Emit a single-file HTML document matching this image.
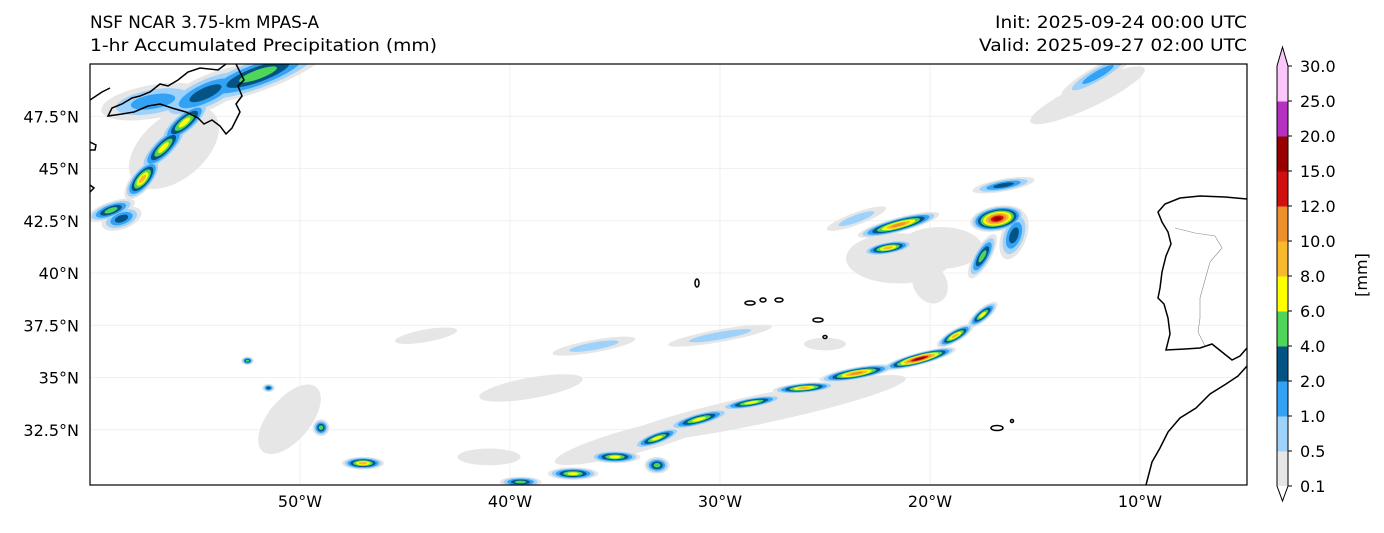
<!DOCTYPE html>
<html><head><meta charset="utf-8"><style>
body{margin:0;background:#fff;font-family:"DejaVu Sans","Liberation Sans",sans-serif;}
svg text{font-family:"DejaVu Sans","Liberation Sans",sans-serif;fill:#000;}
</style></head><body>
<svg id="chart" width="1384" height="529" viewBox="0 0 1384 529" xmlns="http://www.w3.org/2000/svg">
<text x="90" y="28" font-size="16.5" textLength="229" lengthAdjust="spacingAndGlyphs">NSF NCAR 3.75-km MPAS-A</text>
<text x="90" y="51" font-size="16.5" textLength="347" lengthAdjust="spacingAndGlyphs">1-hr Accumulated Precipitation (mm)</text>
<text x="1247" y="28" font-size="16.5" text-anchor="end" textLength="252" lengthAdjust="spacingAndGlyphs">Init: 2025-09-24 00:00 UTC</text>
<text x="1247" y="51" font-size="16.5" text-anchor="end" textLength="268" lengthAdjust="spacingAndGlyphs">Valid: 2025-09-27 02:00 UTC</text>
<defs><clipPath id="mapclip"><rect x="90" y="64" width="1157" height="421"/></clipPath></defs>
<g id="grid"></g>
<g id="precip" clip-path="url(#mapclip)"></g>
<g clip-path="url(#mapclip)" fill="none" stroke="#000" stroke-width="1.5">
<path d="M1247,199 L1225,197 L1200,196 L1180,198 L1165,204 L1158,212 L1162,222 L1168,232 L1171,244 L1166,256 L1162,272 L1160,288 L1158,298 L1164,304 L1168,318 L1170,334 L1166,350 L1185,349 L1200,348 L1212,344 L1222,352 L1232,360 L1240,356 L1247,348"/>
<path d="M1247,366 L1238,376 L1226,384 L1210,394 L1196,408 L1180,418 L1168,432 L1160,448 L1152,462 L1146,485"/>
<path d="M226,64 L218,70 L200,68 L188,72 L178,80 L168,86 L160,84 L150,92 L140,96 L132,98 L122,104 L112,108 L108,116 L122,114 L134,112 L148,106 L160,104 L172,108 L186,112 L198,118 L204,124 L212,120 L220,126 L226,134 L232,128 L236,120 L240,112 L236,104 L242,96 L238,86 L244,80 L240,72 L236,64"/>
<path d="M90,100 L96,96 L102,92 L110,88"/>
<path d="M90,142 L96,145 L95,150 L90,150 M90,185 L94,188 L90,192"/>
<g fill="none"><ellipse cx="697" cy="283" rx="2" ry="4"/><ellipse cx="750" cy="303" rx="5" ry="2"/><ellipse cx="763" cy="300" rx="3" ry="2"/><ellipse cx="779" cy="300" rx="4" ry="2"/><ellipse cx="818" cy="320" rx="5" ry="2"/><ellipse cx="825" cy="337" rx="2" ry="1.5"/></g>
<ellipse cx="997" cy="428" rx="6" ry="2.5"/>
<circle cx="1012" cy="421" r="1.5"/>
</g>
<path d="M1175,228 L1195,233 L1215,236 L1222,248 L1210,262 L1205,280 L1200,298 L1200,318 L1198,332 L1205,346" fill="none" stroke="#888" stroke-width="0.6"/>
<rect x="90" y="64" width="1157" height="421" fill="none" stroke="#000" stroke-width="1.2"/>
<g id="axes"></g>
<g id="cbar"></g>
<text x="0" y="0" font-size="16" transform="translate(1367,275) rotate(-90)" text-anchor="middle">[mm]</text>
</svg>
<script>
const lonTicks=[-50,-40,-30,-20,-10];
const lonLabels=["50°W","40°W","30°W","20°W","10°W"];
const latTicks=[47.5,45,42.5,40,37.5,35,32.5];
const latLabels=["47.5°N","45°N","42.5°N","40°N","37.5°N","35°N","32.5°N"];
const levels=["0.1","0.5","1.0","2.0","4.0","6.0","8.0","10.0","12.0","15.0","20.0","25.0","30.0"];
const levelColors=["#e6e6e6","#9fd2fa","#33a2f5","#035485","#4fd65a","#ffff00","#f9b92e","#ed8f2a","#d01010","#980000","#b531c0","#fcc6fc"];
// precip cells: lon, lat, max level index
const cellLon=[-52,-54.5,-55.5,-56.5,-57.5,-59,-56,-57,-58.5, -21.5,-22,-21.5,-16.8,-17.5,-16,-16.5,-23.5,-19.5,
 -17.5,-18.8,-20.5,-23.5,-26,-28.5,-31,-33,-35,-37,-39.5,-28,-34,
 -47,-49,-51.5,-52.5,-50.5,-39,-44,-12,-12.5,-30,-36,-33,-41,-20,-25];
const cellLat=[49.5,48.6,47.2,46,44.5,43,46,48.2,42.6, 42.3,41.2,40.7,42.6,40.8,41.8,44.2,42.6,41.2,
 38,37,35.9,35.2,34.5,33.8,33,32.1,31.2,30.4,30,33.5,32,
 30.9,32.6,34.5,35.8,33,34.5,37,49.5,48.5,37,36.5,30.8,31.2,39.5,36.6];
const cellLevel=[4,3,5,5,6,4,0,2,3, 7,6,0,9,4,3,3,1,0,
 5,6,9,7,6,5,5,5,5,5,4,0,0,
 6,4,3,4,0,0,0,2,0,1,1,4,0,0,0];
// cell shape (deg): half-width, half-height, rotation
const cellRx=[3.5,2.5,1.5,1.5,1.2,1.2,2.5,2.5,1,2,1.2,2.5,1.3,0.4,0.6,1.5,1.5,2,0.9,1,1.8,1.8,1.5,1.5,1.5,1.2,1.2,1.2,1,7,4,1,0.4,0.3,0.3,1,2.5,1.5,2,3,2.5,2,0.6,1.5,1,1];
const cellRy=[0.8,0.8,0.5,0.5,0.5,0.4,1.5,0.8,0.5,0.35,0.3,1.2,0.6,1.2,1.2,0.3,0.3,1,0.3,0.3,0.3,0.3,0.25,0.25,0.3,0.3,0.3,0.3,0.25,0.7,0.6,0.3,0.4,0.2,0.2,2,0.5,0.3,0.4,0.6,0.3,0.3,0.4,0.4,0.8,0.3];
const cellRot=[-20,-25,-40,-45,-50,-20,-40,-10,-20,-15,-10,0,-10,30,20,-10,-20,0,-40,-30,-15,-10,-5,-10,-15,-20,0,0,0,-12,-15,0,0,0,0,40,-10,-10,-30,-25,-10,-10,0,0,60,0];
const X=lon=>90+(lon+60)*21, Y=lat=>64+(50-lat)*20.9;
const NS='http://www.w3.org/2000/svg';
function mk(tag,attrs,parent){const e=document.createElementNS(NS,tag);for(const k in attrs)e.setAttribute(k,attrs[k]);parent.appendChild(e);return e;}
const grid=document.getElementById('grid'),axes=document.getElementById('axes');
lonTicks.forEach((v,i)=>{
 const l=mk('line',{x1:X(v),x2:X(v),y1:64,y2:485,stroke:'#ececec','stroke-width':0.8},grid);
 
 
 const t=mk('text',{x:X(v),y:507,'font-size':16,'text-anchor':'middle'},axes);t.textContent=lonLabels[i];
 
 
});
latTicks.forEach((v,i)=>{
 const l=mk('line',{x1:90,x2:1247,y1:Y(v),y2:Y(v),stroke:'#ececec','stroke-width':0.8},grid);
 
 
 const t=mk('text',{x:79,y:Y(v)+6,'font-size':16,'text-anchor':'end'},axes);t.textContent=latLabels[i];
 
 
});
const pg=document.getElementById('precip');
for(let lv=0;lv<levelColors.length;lv++){
 cellLon.forEach((lon,i)=>{
  if(cellLevel[i]<lv)return;
  const f=1-lv/(cellLevel[i]+1.5);
  const e=mk('ellipse',{cx:X(lon),cy:Y(cellLat[i]),rx:cellRx[i]*21*f,ry:cellRy[i]*20.9*f,fill:levelColors[lv],
   transform:`rotate(${cellRot[i]} ${X(lon)} ${Y(cellLat[i])})`},pg);
  
  
 });
}
const cb=document.getElementById('cbar');
const cbTop=66,cbBot=486,seg=(cbBot-cbTop)/levelColors.length,cx0=1277,cw=11;
levelColors.forEach((c,i)=>{
 const r=mk('rect',{x:cx0,y:cbBot-(i+1)*seg,width:cw,height:seg+0.5,fill:c},cb);
 
 
});
const up=mk('path',{d:`M${cx0},${cbTop} L${cx0+cw/2},${cbTop-19} L${cx0+cw},${cbTop} Z`,fill:'#fcc6fc'},cb);


const dn=mk('path',{d:`M${cx0},${cbBot} L${cx0+cw/2},${cbBot+15} L${cx0+cw},${cbBot} Z`,fill:'#fff'},cb);


const ol=mk('path',{d:`M${cx0},${cbTop} L${cx0+cw/2},${cbTop-19} L${cx0+cw},${cbTop} L${cx0+cw},${cbBot} L${cx0+cw/2},${cbBot+15} L${cx0},${cbBot} Z`,fill:'none',stroke:'#000','stroke-width':1},cb);


levels.forEach((lab,i)=>{
 const y=cbBot-i*seg;
 const tk=mk('line',{x1:cx0+cw,x2:cx0+cw+4,y1:y,y2:y,stroke:'#000'},cb);
 
 
 const t=mk('text',{x:1300,y:y+6,'font-size':16},cb);t.textContent=lab;
 
 
});
</script>
</body></html>
